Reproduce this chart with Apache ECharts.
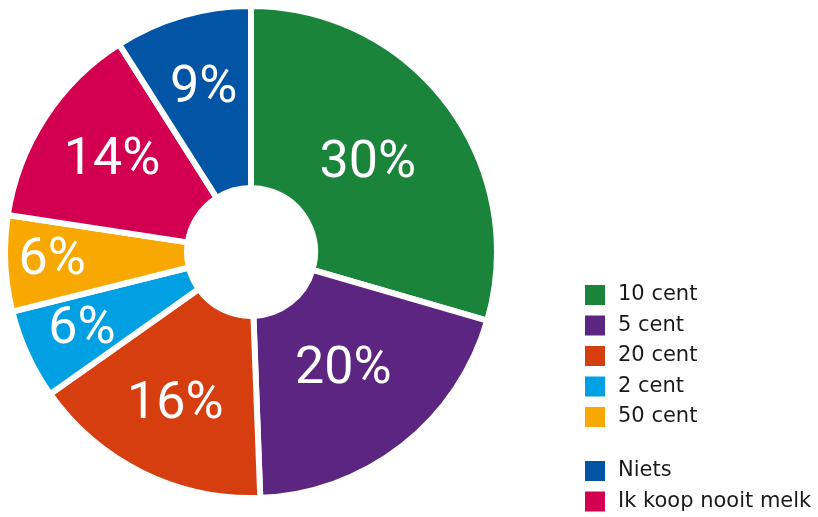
<!DOCTYPE html>
<html>
<head>
<meta charset="utf-8">
<script src="https://cdn.jsdelivr.net/npm/echarts@6/dist/echarts.min.js"></script>
<style>
html,body{margin:0;padding:0;background:#fff;}
#chart{width:818px;height:517px;}
</style>
</head>
<body>
<div id="chart"></div>
<script>
var categories = ['10 cent', '5 cent', '20 cent', '2 cent', '50 cent', 'Niets', 'Ik koop nooit melk'];
var sliceOrder = ['10 cent', '5 cent', '20 cent', '2 cent', '50 cent', 'Ik koop nooit melk', 'Niets'];
var shares = [29.5, 19.9, 15.8, 5.9, 6.3, 13.6, 9.0];
var colors = {
  '10 cent': '#1a843a',
  '5 cent': '#5b2581',
  '20 cent': '#d63e10',
  '2 cent': '#00a0e2',
  '50 cent': '#f8a800',
  'Niets': '#0155a4',
  'Ik koop nooit melk': '#d30051'
};
var labelRadius = [146, 150, 171, 186, 199, 166, 170];

var CX = 251, CY = 252;
var chart = echarts.init(document.getElementById('chart'));
var data = sliceOrder.map(function (n, i) {
  return { name: n, value: shares[i], itemStyle: { color: colors[n] } };
});
function legendOf(top, names) {
  return {
    orient: 'vertical',
    left: 583,
    top: top,
    padding: 0,
    itemWidth: 22,
    itemHeight: 22,
    itemGap: 6.5,
    icon: 'rect',
    selectedMode: false,
    data: names,
    textStyle: { fontFamily: 'DejaVu Sans', fontSize: 21, color: '#1a1a1a', padding: [0, 0, 0, 7] }
  };
}
chart.setOption({
  animation: false,
  backgroundColor: '#ffffff',
  legend: [
    legendOf(283, categories.slice(0, 5)),
    legendOf(459, categories.slice(5))
  ],
  series: [{
    type: 'pie',
    center: [CX, CY],
    radius: [64, 246],
    startAngle: 90,
    clockwise: true,
    data: data,
    itemStyle: { borderColor: '#ffffff', borderWidth: 6 },
    label: {
      show: true,
      position: 'inside',
      color: '#ffffff',
      fontFamily: 'Roboto, sans-serif',
      fontWeight: 400,
      fontSize: 52,
      formatter: function (p) { return Math.round(p.value) + '%'; }
    },
    labelLine: { show: false },
    labelLayout: function (p) {
      var r = p.labelRect;
      var lx = r.x + r.width / 2, ly = r.y + r.height / 2;
      var vx = lx - CX, vy = ly - CY;
      var d = Math.sqrt(vx * vx + vy * vy) || 1;
      var s = labelRadius[p.dataIndex] / d;
      return { x: CX + vx * s, y: CY + vy * s };
    },
    emphasis: { disabled: true }
  }]
});
</script>
</body>
</html>
